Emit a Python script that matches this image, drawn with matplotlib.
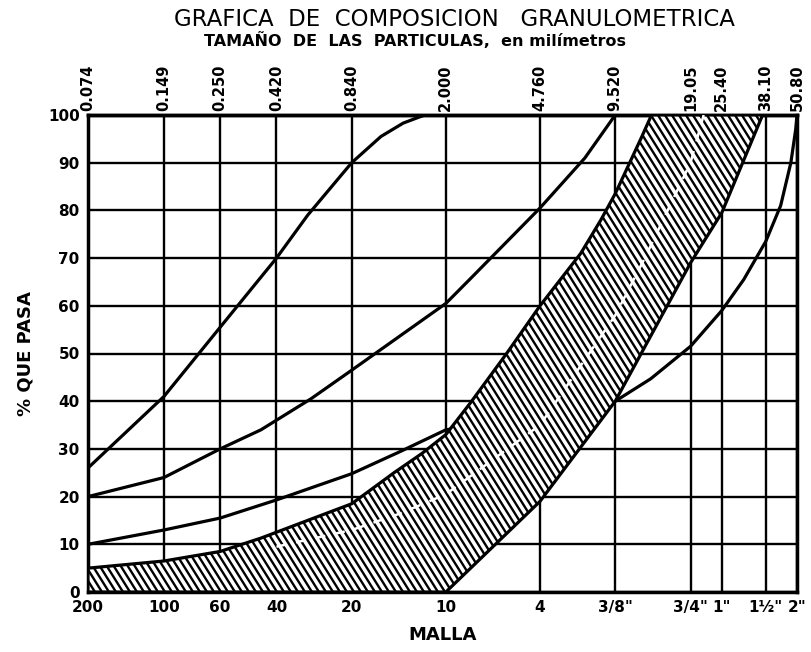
import numpy as np
import matplotlib
matplotlib.use('Agg')
import matplotlib.pyplot as plt
from matplotlib.ticker import NullLocator
from matplotlib.collections import LineCollection

# sieve openings (mm) and their labels
sizes_mm = [0.074, 0.149, 0.250, 0.420, 0.840, 2.000, 4.760, 9.520, 19.05, 25.40, 38.10, 50.80]
mm_labels = ['0.074', '0.149', '0.250', '0.420', '0.840', '2.000', '4.760', '9.520',
             '19.05', '25.40', '38.10', '50.80']
malla_labels = ['200', '100', '60', '40', '20', '10', '4', '3/8"', '3/4"', '1"', '1½"', '2"']
pct_ticks = list(range(0, 101, 10))

# curves (% que pasa vs mm)
curve_a_mm = [0.074, 0.149, 0.250, 0.420, 0.56, 0.840, 1.1, 1.35, 1.57, 1.65]
curve_a_pct = [26, 41, 55.5, 70, 79, 90, 95.5, 98.3, 99.6, 100]

curve_b_mm = [0.074, 0.149, 0.250, 0.364, 0.577, 0.840, 2.000, 2.52, 4.760, 7.2, 9.520]
curve_b_pct = [20, 24, 30, 34, 40.5, 46.5, 60.5, 65.8, 80.5, 91, 100]

curve_c_mm = [0.074, 0.149, 0.250, 0.420, 0.840, 1.32, 2.000, 4.760, 9.520, 13.2, 19.05,
              25.40, 31.1, 38.10, 43.7, 48.0, 50.2, 50.80]
curve_c_pct = [10, 13, 15.5, 19.3, 24.8, 29.5, 34, 37, 40, 44.7, 51.5, 59, 65.5, 73.5, 81, 90, 97, 100]

# hatched band (upper / lower limits)
band_up_mm = [0.074, 0.149, 0.250, 0.364, 0.840, 1.24, 1.6, 2.000, 2.52, 3.5, 4.760, 6.93, 8.34,
              9.520, 12.05, 13.3]
band_up_pct = [5, 6.5, 8.5, 11.3, 18.5, 25, 29, 33, 39.8, 50, 60, 71, 78, 83.5, 95, 100]
band_lo_mm = [0.074, 2.000, 4.760, 9.520, 19.05, 25.40, 37.0]
band_lo_pct = [0, 0, 19, 40, 69, 79.5, 100]

# white dashed line inside the band
mid_mm = [0.42, 0.84, 1.32, 2.0, 4.76, 9.52, 12.5, 19.05, 21.5]
mid_pct = [9.5, 13, 16.5, 20.5, 35, 58, 70, 90, 100]

plt.rcParams['font.family'] = 'DejaVu Sans'

fig = plt.figure(figsize=(8.12, 6.52), dpi=100)
ax = fig.add_axes([88 / 812, 1 - 592 / 652, (797 - 88) / 812, (592 - 115) / 652])
ax.set_xscale('log')
ax.set_xlim(0.074, 50.8)
ax.set_ylim(0, 100)

ax.set_xticks(sizes_mm)
ax.set_xticklabels(malla_labels, fontsize=11, fontweight='bold')
ax.xaxis.set_minor_locator(NullLocator())
ax.set_yticks(pct_ticks)
ax.set_yticklabels([str(p) for p in pct_ticks], fontsize=11, fontweight='bold')
ax.tick_params(length=0, pad=6)
ax.grid(True, color='black', lw=1.7)
ax.set_axisbelow(True)
for s in ax.spines.values():
    s.set_linewidth(2.5)

top = ax.secondary_xaxis('top')
top.set_xticks(sizes_mm)
top.set_xticklabels(mm_labels, rotation=90, fontsize=10.5, fontweight='bold')
top.xaxis.set_minor_locator(NullLocator())
top.tick_params(length=0, pad=3)
top.spines['top'].set_linewidth(2.5)

lw = 2.3
for xs, ys in [(curve_a_mm, curve_a_pct), (curve_b_mm, curve_b_pct), (curve_c_mm, curve_c_pct)]:
    ax.plot(xs, ys, color='black', lw=lw, zorder=2, solid_joinstyle='round')

# band: white face hides grid and curve, then steep hatch lines clipped to it
band_x = band_up_mm + band_lo_mm[::-1]
band_y = band_up_pct + band_lo_pct[::-1]
face = ax.fill(band_x, band_y, facecolor='white', edgecolor='none', zorder=3)[0]

W, H = 709.0, 477.0           # axes size in px
slope = 1.6                   # hatch steepness (px down per px right)
step = 7.0                    # horizontal spacing in px
segs = []
for x0 in np.arange(-H / slope, W + step, step):
    segs.append([(x0 / W, 1.0), ((x0 + H / slope) / W, 0.0)])
hatch = LineCollection(segs, colors='black', linewidths=1.7, transform=ax.transAxes, zorder=3.2)
hatch.set_clip_path(face)
ax.add_collection(hatch)

ax.fill(band_x, band_y, facecolor='none', edgecolor='black', lw=2.3, zorder=3.5)
ax.plot(mid_mm, mid_pct, color='white', lw=1.8, ls=(0, (4, 4)), zorder=4)

ax.set_xlabel('MALLA', fontsize=13, fontweight='bold', labelpad=8)
ax.set_ylabel('% QUE PASA', fontsize=13, fontweight='bold', labelpad=10)

fig.text(0.56, 1 - 19 / 652, 'GRAFICA  DE  COMPOSICION   GRANULOMETRICA',
         ha='center', va='center', fontsize=16.5)
fig.text(0.511, 1 - 40 / 652, 'TAMAÑO  DE  LAS  PARTICULAS,  en milímetros',
         ha='center', va='center', fontsize=11.5, fontweight='bold')

fig.savefig('out.png', dpi=100)
